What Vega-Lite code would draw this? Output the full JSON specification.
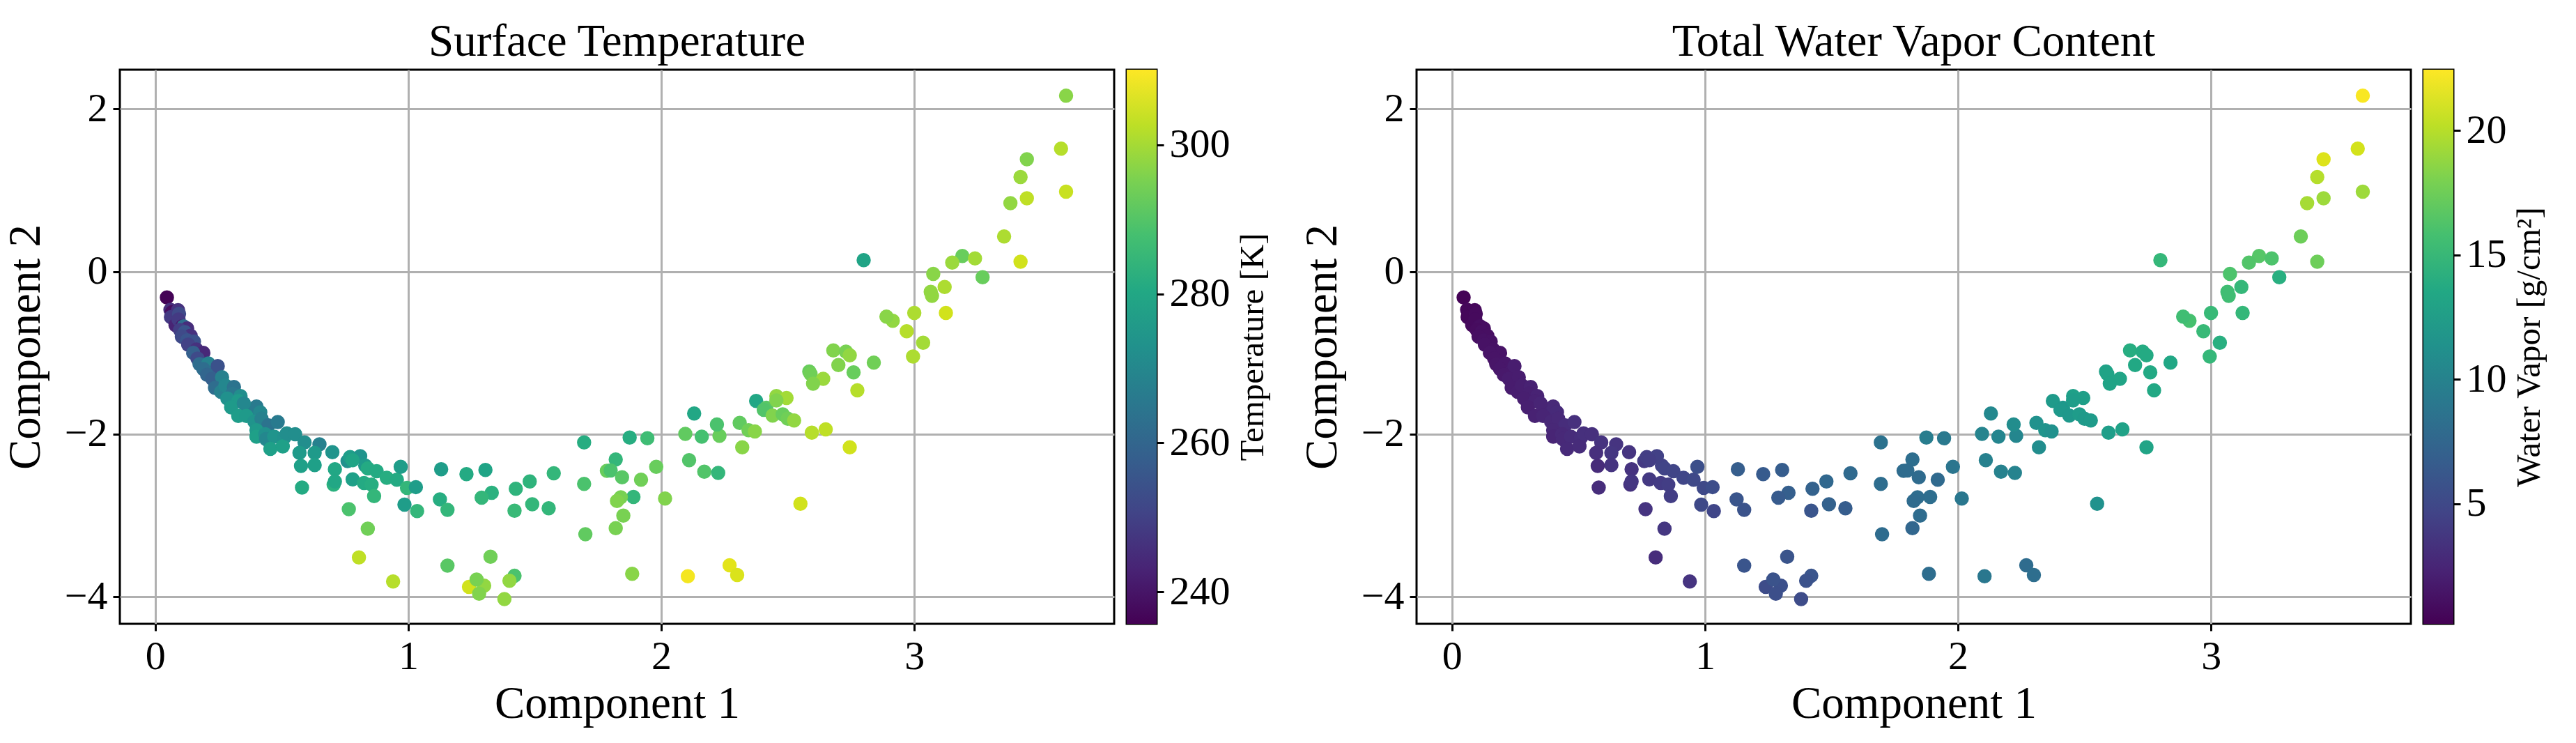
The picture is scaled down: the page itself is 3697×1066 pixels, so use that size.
{"$schema":"https://vega.github.io/schema/vega-lite/v6.json","padding":{"left":2,"top":26,"right":0,"bottom":0},"background":"white","datasets":{"points":[
{"c1":0.046,"c2":-0.32,"temp":236,"vapor":0.3},{"c1":0.06,"c2":-0.47,"temp":245,"vapor":0.5},{"c1":0.066,"c2":-0.5,"temp":238,"vapor":0.5},{"c1":0.09,"c2":-0.475,"temp":246,"vapor":0.6},{"c1":0.062,"c2":-0.56,"temp":248,"vapor":0.5},{"c1":0.094,"c2":-0.52,"temp":252,"vapor":0.7},{"c1":0.08,"c2":-0.66,"temp":243,"vapor":0.7},{"c1":0.092,"c2":-0.59,"temp":248,"vapor":0.7},{"c1":0.107,"c2":-0.675,"temp":240,"vapor":0.8},{"c1":0.112,"c2":-0.675,"temp":262,"vapor":0.9},{"c1":0.126,"c2":-0.7,"temp":245,"vapor":0.9},{"c1":0.098,"c2":-0.72,"temp":249,"vapor":0.8},{"c1":0.117,"c2":-0.745,"temp":255,"vapor":1.0},{"c1":0.14,"c2":-0.79,"temp":246,"vapor":1.0},{"c1":0.105,"c2":-0.8,"temp":252,"vapor":1.0},{"c1":0.126,"c2":-0.845,"temp":255,"vapor":1.1},{"c1":0.153,"c2":-0.86,"temp":254,"vapor":1.1},{"c1":0.13,"c2":-0.9,"temp":250,"vapor":1.2},{"c1":0.163,"c2":-0.96,"temp":246,"vapor":1.2},{"c1":0.19,"c2":-1.0,"temp":244,"vapor":1.3},{"c1":0.15,"c2":-1.0,"temp":258,"vapor":1.3},{"c1":0.167,"c2":-1.07,"temp":252,"vapor":1.3},{"c1":0.175,"c2":-1.14,"temp":262,"vapor":1.4},{"c1":0.21,"c2":-1.13,"temp":268,"vapor":1.5},{"c1":0.19,"c2":-1.2,"temp":262,"vapor":1.5},{"c1":0.237,"c2":-1.23,"temp":264,"vapor":1.7},{"c1":0.247,"c2":-1.163,"temp":254,"vapor":1.9},{"c1":0.205,"c2":-1.27,"temp":260,"vapor":1.6},{"c1":0.225,"c2":-1.32,"temp":258,"vapor":1.8},{"c1":0.264,"c2":-1.3,"temp":268,"vapor":1.9},{"c1":0.236,"c2":-1.43,"temp":262,"vapor":1.8},{"c1":0.26,"c2":-1.48,"temp":268,"vapor":1.9},{"c1":0.277,"c2":-1.4,"temp":270,"vapor":2.0},{"c1":0.311,"c2":-1.42,"temp":264,"vapor":2.2},{"c1":0.305,"c2":-1.5,"temp":265,"vapor":2.1},{"c1":0.337,"c2":-1.53,"temp":272,"vapor":2.3},{"c1":0.285,"c2":-1.56,"temp":273,"vapor":2.0},{"c1":0.328,"c2":-1.59,"temp":276,"vapor":2.2},{"c1":0.3,"c2":-1.67,"temp":276,"vapor":2.1},{"c1":0.369,"c2":-1.717,"temp":266,"vapor":2.5},{"c1":0.4,"c2":-1.66,"temp":266,"vapor":2.7},{"c1":0.35,"c2":-1.62,"temp":270,"vapor":2.4},{"c1":0.415,"c2":-1.73,"temp":270,"vapor":2.8},{"c1":0.328,"c2":-1.775,"temp":277,"vapor":2.2},{"c1":0.36,"c2":-1.775,"temp":276,"vapor":2.4},{"c1":0.392,"c2":-1.845,"temp":274,"vapor":2.6},{"c1":0.42,"c2":-1.81,"temp":268,"vapor":2.7},{"c1":0.447,"c2":-1.89,"temp":264,"vapor":3.0},{"c1":0.484,"c2":-1.85,"temp":266,"vapor":3.2},{"c1":0.4,"c2":-1.95,"temp":276,"vapor":2.6},{"c1":0.4,"c2":-2.03,"temp":278,"vapor":2.4},{"c1":0.435,"c2":-2.0,"temp":273,"vapor":2.7},{"c1":0.438,"c2":-2.06,"temp":270,"vapor":2.7},{"c1":0.47,"c2":-2.03,"temp":274,"vapor":2.9},{"c1":0.455,"c2":-2.18,"temp":278,"vapor":2.8},{"c1":0.51,"c2":-2.04,"temp":273,"vapor":3.1},{"c1":0.504,"c2":-2.15,"temp":278,"vapor":2.9},{"c1":0.52,"c2":-1.99,"temp":272,"vapor":3.2},{"c1":0.553,"c2":-2.0,"temp":272,"vapor":3.2},{"c1":0.59,"c2":-2.1,"temp":272,"vapor":3.4},{"c1":0.649,"c2":-2.125,"temp":268,"vapor":3.5},{"c1":0.57,"c2":-2.23,"temp":276,"vapor":3.2},{"c1":0.63,"c2":-2.23,"temp":276,"vapor":3.6},{"c1":0.63,"c2":-2.38,"temp":278,"vapor":3.5},{"c1":0.576,"c2":-2.39,"temp":278,"vapor":2.9},{"c1":0.7,"c2":-2.22,"temp":274,"vapor":3.5},
{"c1":0.58,"c2":-2.655,"temp":281,"vapor":3.0},{"c1":0.71,"c2":-2.43,"temp":280,"vapor":3.4},{"c1":0.705,"c2":-2.62,"temp":283,"vapor":3.4},{"c1":0.71,"c2":-2.58,"temp":280,"vapor":3.6},{"c1":0.78,"c2":-2.555,"temp":278,"vapor":3.8},{"c1":0.825,"c2":-2.6,"temp":281,"vapor":4.0},{"c1":0.855,"c2":-2.62,"temp":282,"vapor":4.2},{"c1":0.76,"c2":-2.33,"temp":273,"vapor":3.9},{"c1":0.77,"c2":-2.28,"temp":277,"vapor":4.2},{"c1":0.81,"c2":-2.27,"temp":274,"vapor":4.4},{"c1":0.78,"c2":-2.32,"temp":279,"vapor":4.2},{"c1":0.83,"c2":-2.385,"temp":276,"vapor":4.5},{"c1":0.84,"c2":-2.42,"temp":281,"vapor":4.6},{"c1":0.875,"c2":-2.455,"temp":281,"vapor":4.7},{"c1":0.915,"c2":-2.535,"temp":282,"vapor":4.8},{"c1":0.955,"c2":-2.56,"temp":281,"vapor":5.0},{"c1":0.97,"c2":-2.4,"temp":277,"vapor":5.5},{"c1":0.995,"c2":-2.66,"temp":285,"vapor":5.0},{"c1":1.03,"c2":-2.65,"temp":277,"vapor":5.3},{"c1":0.985,"c2":-2.865,"temp":277,"vapor":5.0},{"c1":1.035,"c2":-2.945,"temp":285,"vapor":4.8},{"c1":0.765,"c2":-2.92,"temp":289,"vapor":3.5},{"c1":0.865,"c2":-2.76,"temp":285,"vapor":4.2},{"c1":0.84,"c2":-3.16,"temp":294,"vapor":3.7},{"c1":0.805,"c2":-3.515,"temp":303,"vapor":3.0},{"c1":0.94,"c2":-3.81,"temp":302,"vapor":3.5},
{"c1":1.13,"c2":-2.43,"temp":277,"vapor":6.7},{"c1":1.305,"c2":-2.44,"temp":279,"vapor":6.6},{"c1":1.23,"c2":-2.49,"temp":281,"vapor":6.5},{"c1":1.125,"c2":-2.8,"temp":282,"vapor":6.0},{"c1":1.155,"c2":-2.93,"temp":285,"vapor":5.8},{"c1":1.575,"c2":-2.48,"temp":285,"vapor":7.8},{"c1":1.48,"c2":-2.58,"temp":284,"vapor":7.6},{"c1":1.425,"c2":-2.67,"temp":284,"vapor":7.0},{"c1":1.33,"c2":-2.72,"temp":283,"vapor":6.8},{"c1":1.29,"c2":-2.78,"temp":285,"vapor":6.5},{"c1":1.49,"c2":-2.86,"temp":285,"vapor":7.0},{"c1":1.555,"c2":-2.91,"temp":285,"vapor":6.6},{"c1":1.42,"c2":-2.94,"temp":286,"vapor":6.0},{"c1":1.155,"c2":-3.615,"temp":291,"vapor":6.0},{"c1":1.325,"c2":-3.505,"temp":294,"vapor":5.9},{"c1":1.24,"c2":-3.875,"temp":305,"vapor":5.2},{"c1":1.3,"c2":-3.86,"temp":298,"vapor":5.6},{"c1":1.28,"c2":-3.96,"temp":296,"vapor":5.5},{"c1":1.27,"c2":-3.785,"temp":295,"vapor":5.8},{"c1":1.42,"c2":-3.74,"temp":289,"vapor":6.0},{"c1":1.4,"c2":-3.8,"temp":298,"vapor":5.7},{"c1":1.38,"c2":-4.025,"temp":298,"vapor":5.2},{"c1":1.7,"c2":-3.23,"temp":292,"vapor":8.0},{"c1":1.695,"c2":-2.1,"temp":282,"vapor":8.5},{"c1":1.695,"c2":-2.61,"temp":289,"vapor":8.1},{"c1":1.82,"c2":-2.31,"temp":285,"vapor":8.2},{"c1":1.785,"c2":-2.45,"temp":293,"vapor":8.0},{"c1":1.8,"c2":-2.445,"temp":289,"vapor":8.0},{"c1":1.845,"c2":-2.53,"temp":291,"vapor":7.9},{"c1":1.92,"c2":-2.56,"temp":294,"vapor":7.8},{"c1":1.89,"c2":-2.77,"temp":285,"vapor":8.2},{"c1":1.84,"c2":-2.775,"temp":295,"vapor":8.1},{"c1":1.825,"c2":-2.82,"temp":296,"vapor":7.9},{"c1":2.015,"c2":-2.79,"temp":296,"vapor":9.0},{"c1":1.85,"c2":-3.0,"temp":295,"vapor":8.0},{"c1":1.82,"c2":-3.155,"temp":295,"vapor":7.5},{"c1":1.885,"c2":-3.715,"temp":297,"vapor":8.1},{"c1":2.105,"c2":-3.745,"temp":309,"vapor":9.0},{"c1":2.27,"c2":-3.61,"temp":307,"vapor":8.0},{"c1":2.3,"c2":-3.73,"temp":306,"vapor":8.2},{"c1":1.875,"c2":-2.04,"temp":282,"vapor":9.5},{"c1":1.945,"c2":-2.05,"temp":287,"vapor":9.2},{"c1":1.98,"c2":-2.4,"temp":293,"vapor":8.8},{"c1":2.11,"c2":-2.32,"temp":290,"vapor":9.8},{"c1":2.17,"c2":-2.46,"temp":290,"vapor":9.9},{"c1":2.225,"c2":-2.475,"temp":285,"vapor":10.0},{"c1":2.095,"c2":-1.995,"temp":292,"vapor":10.1},{"c1":2.16,"c2":-2.03,"temp":288,"vapor":10.3},{"c1":2.23,"c2":-2.02,"temp":293,"vapor":10.4},{"c1":2.22,"c2":-1.88,"temp":289,"vapor":11.0},{"c1":2.13,"c2":-1.745,"temp":280,"vapor":10.6},{"c1":2.31,"c2":-1.86,"temp":292,"vapor":11.4},{"c1":2.345,"c2":-1.95,"temp":294,"vapor":11.6},{"c1":2.37,"c2":-1.965,"temp":297,"vapor":11.3},{"c1":2.32,"c2":-2.16,"temp":297,"vapor":11.0},{"c1":2.55,"c2":-2.855,"temp":305,"vapor":11.4},
{"c1":2.375,"c2":-1.59,"temp":280,"vapor":12.2},{"c1":2.415,"c2":-1.675,"temp":291,"vapor":12.0},{"c1":2.405,"c2":-1.7,"temp":290,"vapor":12.1},{"c1":2.44,"c2":-1.77,"temp":296,"vapor":12.0},{"c1":2.48,"c2":-1.755,"temp":293,"vapor":12.4},{"c1":2.455,"c2":-1.53,"temp":298,"vapor":12.8},{"c1":2.495,"c2":-1.555,"temp":300,"vapor":12.7},{"c1":2.455,"c2":-1.585,"temp":296,"vapor":12.5},{"c1":2.5,"c2":-1.81,"temp":294,"vapor":12.2},{"c1":2.525,"c2":-1.83,"temp":298,"vapor":12.3},{"c1":2.595,"c2":-1.98,"temp":302,"vapor":12.6},{"c1":2.65,"c2":-1.94,"temp":303,"vapor":13.0},{"c1":2.745,"c2":-2.16,"temp":305,"vapor":13.2},{"c1":2.585,"c2":-1.23,"temp":293,"vapor":13.0},{"c1":2.59,"c2":-1.26,"temp":294,"vapor":13.1},{"c1":2.64,"c2":-1.32,"temp":299,"vapor":13.2},{"c1":2.6,"c2":-1.38,"temp":296,"vapor":13.1},{"c1":2.68,"c2":-0.97,"temp":296,"vapor":14.0},{"c1":2.73,"c2":-0.985,"temp":295,"vapor":13.8},{"c1":2.745,"c2":-1.03,"temp":298,"vapor":13.7},{"c1":2.7,"c2":-1.15,"temp":296,"vapor":13.5},{"c1":2.84,"c2":-1.12,"temp":294,"vapor":13.4},{"c1":2.76,"c2":-1.24,"temp":293,"vapor":13.6},{"c1":2.775,"c2":-1.46,"temp":302,"vapor":13.5},{"c1":2.995,"c2":-1.045,"temp":301,"vapor":15.0},{"c1":3.035,"c2":-0.875,"temp":300,"vapor":14.2},{"c1":2.97,"c2":-0.735,"temp":302,"vapor":15.2},{"c1":2.915,"c2":-0.605,"temp":298,"vapor":15.9},{"c1":2.89,"c2":-0.555,"temp":297,"vapor":15.6},{"c1":3.0,"c2":-0.51,"temp":301,"vapor":15.2},{"c1":3.125,"c2":-0.51,"temp":305,"vapor":15.0},{"c1":3.07,"c2":-0.3,"temp":298,"vapor":15.6},{"c1":3.065,"c2":-0.25,"temp":298,"vapor":15.6},{"c1":3.12,"c2":-0.19,"temp":301,"vapor":15.0},{"c1":3.075,"c2":-0.03,"temp":297,"vapor":16.2},{"c1":2.8,"c2":0.14,"temp":279,"vapor":15.0},{"c1":3.27,"c2":-0.07,"temp":293,"vapor":14.2},{"c1":3.19,"c2":0.19,"temp":293,"vapor":16.6},{"c1":3.15,"c2":0.11,"temp":299,"vapor":16.4},{"c1":3.24,"c2":0.16,"temp":300,"vapor":16.2},{"c1":3.42,"c2":0.12,"temp":305,"vapor":17.5},{"c1":3.355,"c2":0.43,"temp":301,"vapor":17.5},{"c1":3.38,"c2":0.84,"temp":298,"vapor":19.5},{"c1":3.445,"c2":0.9,"temp":303,"vapor":19.2},{"c1":3.42,"c2":1.16,"temp":299,"vapor":20.0},{"c1":3.445,"c2":1.38,"temp":296,"vapor":21.3},{"c1":3.6,"c2":0.98,"temp":304,"vapor":19.2},{"c1":3.58,"c2":1.51,"temp":302,"vapor":21.0},{"c1":3.6,"c2":2.16,"temp":297,"vapor":22.3}
]},"resolve":{"scale":{"color":"independent","x":"independent","y":"independent"}},"hconcat":[{"spacing":14,"resolve":{"scale":{"color":"independent","x":"independent","y":"independent"}},"hconcat":[
{"width":1427,"height":795,"title":{"text":"Surface Temperature"},"data":{"name":"points"},"mark":{"type":"circle","size":420,"opacity":1},"encoding":{"x":{"field":"c1","type":"quantitative","scale":{"domain":[-0.14,3.79],"nice":false,"zero":false},"axis":{"title":"Component 1","titlePadding":7,"values":[0,1,2,3],"format":"d"}},"y":{"field":"c2","type":"quantitative","scale":{"domain":[-4.33,2.48],"nice":false,"zero":false},"axis":{"title":"Component 2","titlePadding":22,"values":[-4,-2,0,2],"format":"d"}},"color":{"field":"temp","type":"quantitative","legend":null,"scale":{"scheme":"viridis","domain":[235.7,310.1],"nice":false,"zero":false}}}},
{"width":43,"height":795,"data":{"values":[{"low":235.7,"high":310.1}]},"mark":{"type":"rect","color":{"gradient":"linear","x1":0,"y1":1,"x2":0,"y2":0,"stops":[{"offset":0,"color":"#440154"},{"offset":0.1,"color":"#482475"},{"offset":0.2,"color":"#414487"},{"offset":0.3,"color":"#355f8d"},{"offset":0.4,"color":"#2a788e"},{"offset":0.5,"color":"#21918c"},{"offset":0.6,"color":"#22a884"},{"offset":0.7,"color":"#44bf70"},{"offset":0.8,"color":"#7ad151"},{"offset":0.9,"color":"#bddf26"},{"offset":1,"color":"#fde725"}]}},"encoding":{"y":{"field":"low","type":"quantitative","scale":{"domain":[235.7,310.1],"nice":false,"zero":false},"axis":{"orient":"right","grid":false,"title":"Temperature [K]","titleFontSize":49,"titleAngle":270,"titleBaseline":"top","titlePadding":8,"values":[240,260,280,300],"format":"d"}},"y2":{"field":"high"}}}
]},{"spacing":14,"resolve":{"scale":{"color":"independent","x":"independent","y":"independent"}},"hconcat":[
{"width":1427,"height":795,"title":{"text":"Total Water Vapor Content"},"data":{"name":"points"},"mark":{"type":"circle","size":420,"opacity":1},"encoding":{"x":{"field":"c1","type":"quantitative","scale":{"domain":[-0.14,3.79],"nice":false,"zero":false},"axis":{"title":"Component 1","titlePadding":7,"values":[0,1,2,3],"format":"d"}},"y":{"field":"c2","type":"quantitative","scale":{"domain":[-4.33,2.48],"nice":false,"zero":false},"axis":{"title":"Component 2","titlePadding":22,"values":[-4,-2,0,2],"format":"d"}},"color":{"field":"vapor","type":"quantitative","legend":null,"scale":{"scheme":"viridis","domain":[0.18,22.44],"nice":false,"zero":false}}}},
{"width":43,"height":795,"data":{"values":[{"low":0.18,"high":22.44}]},"mark":{"type":"rect","color":{"gradient":"linear","x1":0,"y1":1,"x2":0,"y2":0,"stops":[{"offset":0,"color":"#440154"},{"offset":0.1,"color":"#482475"},{"offset":0.2,"color":"#414487"},{"offset":0.3,"color":"#355f8d"},{"offset":0.4,"color":"#2a788e"},{"offset":0.5,"color":"#21918c"},{"offset":0.6,"color":"#22a884"},{"offset":0.7,"color":"#44bf70"},{"offset":0.8,"color":"#7ad151"},{"offset":0.9,"color":"#bddf26"},{"offset":1,"color":"#fde725"}]}},"encoding":{"y":{"field":"low","type":"quantitative","scale":{"domain":[0.18,22.44],"nice":false,"zero":false},"axis":{"orient":"right","grid":false,"title":"Water Vapor [g/cm²]","titleFontSize":49,"titleAngle":270,"titleBaseline":"top","titlePadding":8,"values":[5,10,15,20],"format":"d"}},"y2":{"field":"high"}}}
]}],"spacing":39,"config":{"font":"Liberation Serif","view":{"stroke":"black","strokeWidth":3},"title":{"font":"Liberation Serif","fontSize":65,"fontWeight":"normal","color":"black","offset":6},"axis":{"zindex":1,"grid":true,"gridColor":"#b0b0b0","gridWidth":3,"domain":false,"ticks":true,"tickColor":"black","tickWidth":3,"tickSize":10,"labelFont":"Liberation Serif","labelFontSize":58,"labelColor":"black","labelPadding":8,"labelFlush":false,"labelOverlap":false,"titleFont":"Liberation Serif","titleFontSize":65,"titleFontWeight":"normal","titleColor":"black","titlePadding":10}}}
